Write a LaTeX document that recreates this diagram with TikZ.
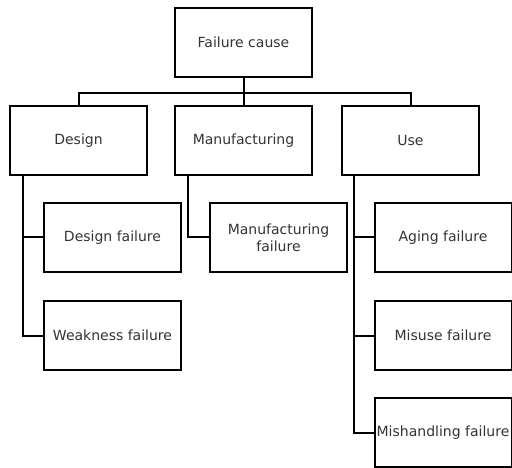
\documentclass[tikz,border=0pt]{standalone}
\usepackage{fontspec}
\setmainfont{DejaVu Sans}
\usetikzlibrary{positioning}

\begin{document}
\begin{tikzpicture}[x=1pt,y=1pt,on grid,line width=2pt,
                    box/.style={draw,rectangle,minimum width=137pt,minimum height=69pt,
                                inner sep=1pt,align=center,text=black!80,
                                font=\fontsize{14}{17}\selectfont}]
                    \useasboundingbox (0,0) rectangle (512,-468);
                    \node[box] (F) at (243.5,-42.5) {Failure cause};
                    \node[box] [below=98pt of F] (M) {Manufacturing};
                    \node[box] [left=165pt of M] (D) {Design};
                    \node[box] [right=167pt of M] (U) {Use};
                    \node[box] [below right=97pt and 34pt of D] (D_1) {Design failure};
                    \node[box] [below=98pt of D_1] (D_2) {Weakness failure};
                    \node[box] [below right=97pt and 35pt of M] (M_1) {Manufacturing\\failure};
                    \node[box] [below right=97pt and 32.5pt of U] (U_1) {Aging failure};
                    \node[box] [below=98pt of U_1] (U_2) {Misuse failure};
                    \node[box] [below=97pt of U_2] (U_3) {Mishandling failure};
                    \coordinate [below=15pt of F.south] (bus);
                    \draw (F.south) -- (M.north);
                    \draw (D.north) |- (bus) -| (U.north);
                    \draw ([xshift=14pt]D.south west) |- (D_1.west)
                          ([xshift=14pt]D.south west) |- (D_2.west);
                    \draw ([xshift=14pt]M.south west) |- (M_1.west);
                    \draw ([xshift=13pt]U.south west) |- (U_1.west)
                          ([xshift=13pt]U.south west) |- (U_2.west)
                          ([xshift=13pt]U.south west) |- (U_3.west);
                \end{tikzpicture}
\end{document}
